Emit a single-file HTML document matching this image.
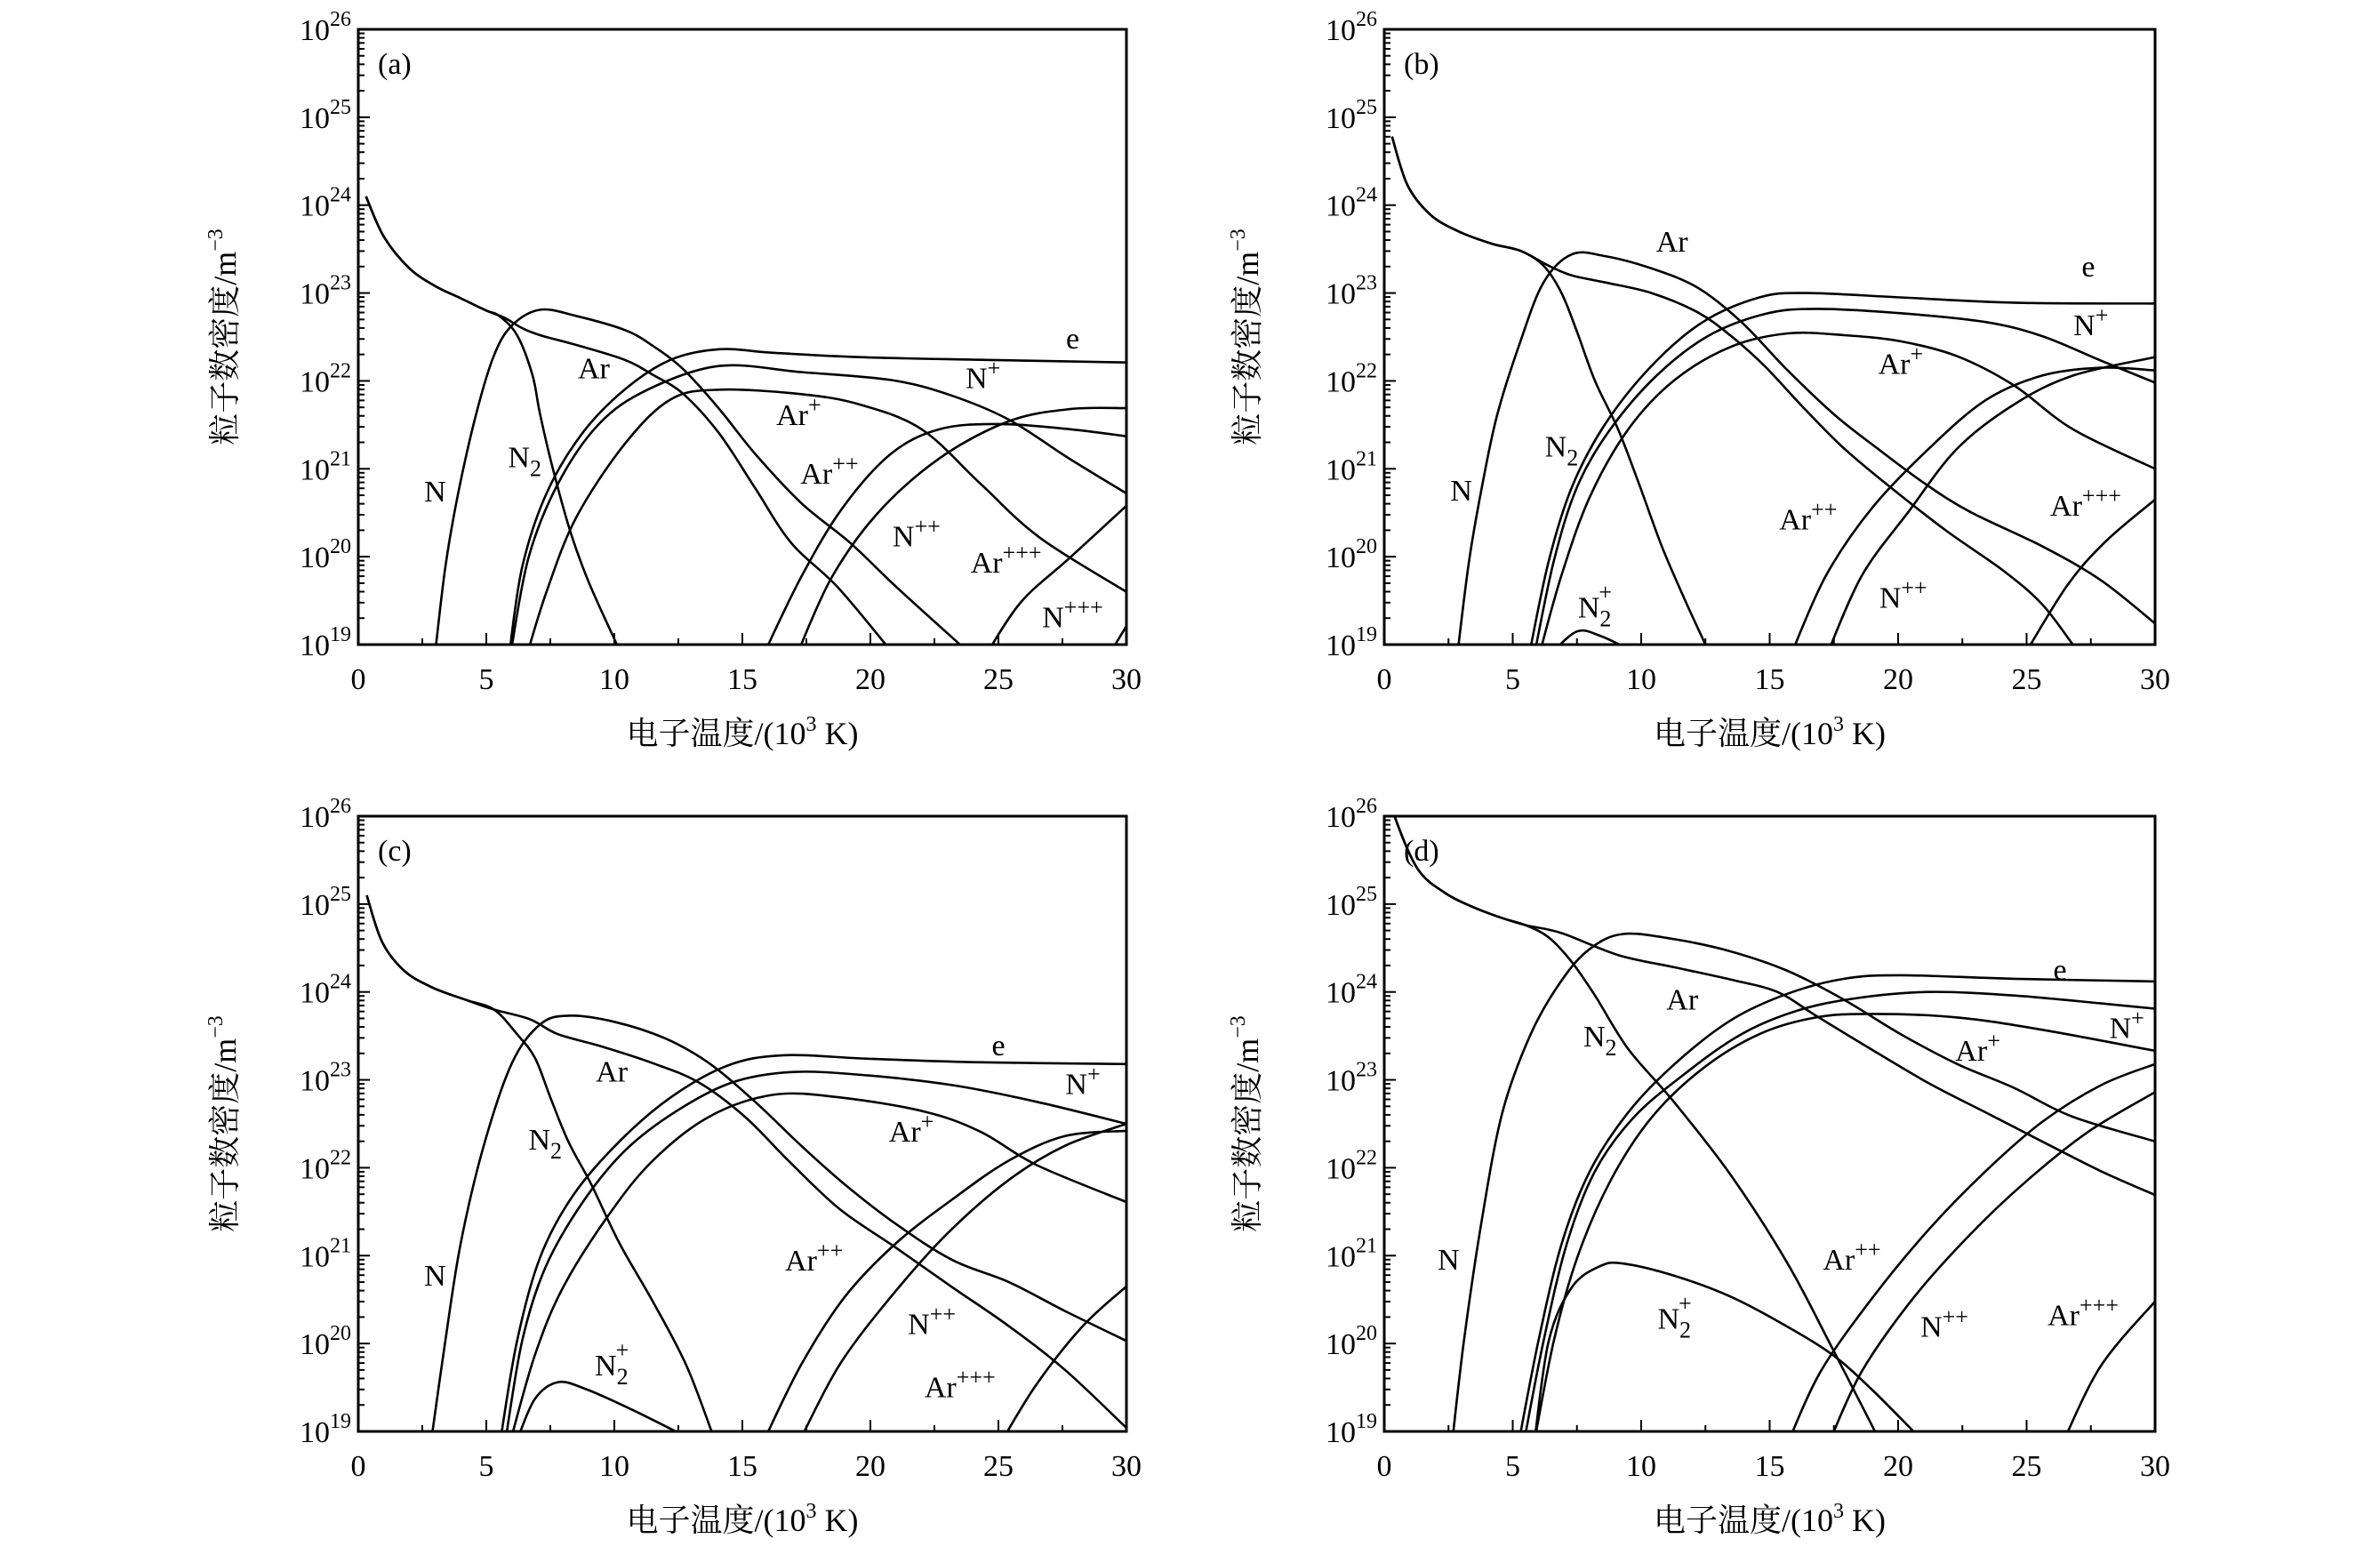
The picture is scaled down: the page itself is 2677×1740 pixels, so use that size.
<!DOCTYPE html>
<html><head><meta charset="utf-8">
<style>
html,body{margin:0;padding:0;background:#fff;}
svg{display:block;}
text{font-family:"Liberation Serif","Noto Serif CJK SC",serif;fill:#000;}
.cjk{font-family:"Liberation Serif","Noto Serif CJK SC","Noto Sans CJK SC",serif;}
</style></head>
<body>
<svg id="fig" width="2677" height="1740" viewBox="0 0 2677 1740" xmlns="http://www.w3.org/2000/svg">
<rect width="2677" height="1740" fill="#fff"/>
</svg>
<script>
// ---------- data: [T (10^3 K), log10 n] ----------
const xTicks=[0,5,10,15,20,25,30];
const yTicks=[19,20,21,22,23,24,25,26];
const speciesNames=["N2","Ar","N","e","N+","Ar+","N2+","Ar++","N++","Ar+++","N+++"];
// panel a
const a_N2=[[0.3,24.1],[1,23.64],[2,23.28],[3,23.08],[4,22.94],[5,22.8],[5.5,22.74],[6.2,22.52],[6.8,22.07],[7.1,21.62],[7.6,21.0],[8.3,20.27],[9.0,19.71],[10.1,19]];
const a_Ar=[[0.3,24.1],[1,23.64],[2,23.28],[3,23.08],[4,22.94],[5,22.8],[5.7,22.72],[6.4,22.6],[7.1,22.52],[8.5,22.41],[10.4,22.24],[11.5,22.07],[12.7,21.85],[14.1,21.4],[15.5,20.78],[16.9,20.16],[18.7,19.66],[20.6,19]];
const a_N=[[3.0,18.9],[3.4,19.88],[3.9,20.72],[4.6,21.62],[5.3,22.29],[6.0,22.63],[7.1,22.81],[8.5,22.74],[10.4,22.58],[11.5,22.4],[12.7,22.13],[14.1,21.68],[15.5,21.17],[17.3,20.61],[19.2,20.16],[21.0,19.66],[23.5,19]];
const a_e=[[5.9,18.9],[6.4,19.88],[7.35,20.72],[8.74,21.4],[10.4,21.9],[12.2,22.24],[14.1,22.36],[16.2,22.32],[19.6,22.27],[24.3,22.24],[30,22.21]];
const a_Np=[[5.95,18.9],[6.65,19.99],[7.8,20.83],[9.4,21.51],[11.3,21.9],[14.1,22.17],[17.3,22.1],[20.8,22.01],[23.1,21.84],[25.4,21.56],[27.8,21.11],[30,20.72]];
const a_Arp=[[6.6,18.9],[7.35,19.6],[8.5,20.44],[10.4,21.28],[12.2,21.79],[14.1,21.9],[17.3,21.85],[19.6,21.73],[22.0,21.45],[24.3,20.83],[26.6,20.22],[30,19.6]];
const a_Arpp=[[15.85,18.9],[17.3,19.77],[18.9,20.55],[20.8,21.17],[22.7,21.45],[25.0,21.51],[27.8,21.45],[30,21.37]];
const a_Npp=[[17.15,18.9],[18.5,19.77],[20.3,20.5],[22.7,21.12],[25.4,21.54],[27.8,21.68],[30,21.69]];
const a_Arppp=[[24.55,18.9],[25.9,19.49],[27.8,19.99],[30,20.58]];
const a_Nppp=[[29.35,18.9],[30,19.21]];
// panel b
const b_N2=[[0.3,24.78],[0.9,24.23],[1.8,23.89],[2.9,23.7],[4.2,23.56],[5.3,23.48],[6.2,23.31],[6.9,23.0],[7.5,22.56],[8.2,22.0],[9.1,21.45],[9.9,20.84],[10.8,20.12],[11.7,19.51],[12.5,19]];
const b_Ar=[[0.3,24.78],[0.9,24.23],[1.8,23.89],[2.9,23.7],[4.2,23.56],[5.3,23.48],[6.4,23.31],[7.3,23.2],[8.6,23.12],[10.4,23.0],[12.2,22.78],[13.5,22.51],[14.8,22.17],[16.4,21.67],[17.9,21.23],[19.7,20.79],[21.9,20.29],[24.1,19.84],[25.6,19.46],[26.8,19]];
const b_N=[[2.85,18.9],[3.3,19.95],[3.8,20.79],[4.4,21.62],[5.3,22.45],[6.2,23.12],[7.3,23.44],[8.6,23.42],[10.4,23.28],[12.2,23.06],[13.9,22.67],[15.7,22.12],[17.5,21.62],[19.2,21.23],[21.0,20.84],[22.8,20.51],[25.6,20.12],[27.9,19.73],[30,19.24]];
const b_e=[[5.65,18.9],[6.4,19.95],[7.3,20.79],[8.6,21.51],[10.4,22.17],[12.4,22.67],[14.6,22.95],[16.4,23.0],[20.1,22.95],[24.5,22.89],[30,22.88]];
const b_Np=[[5.85,18.9],[6.6,19.95],[7.5,20.79],[8.8,21.45],[10.6,22.06],[12.6,22.51],[14.8,22.76],[16.8,22.82],[20.1,22.77],[23.4,22.67],[25.6,22.51],[27.9,22.23],[30,21.98]];
const b_Arp=[[6.05,18.9],[6.9,19.79],[8.0,20.68],[9.5,21.45],[11.3,22.01],[13.5,22.39],[15.7,22.54],[17.9,22.52],[20.1,22.45],[22.3,22.28],[24.5,21.95],[26.8,21.45],[30,21.0]];
const b_N2p=[[6.5,18.9],[7.5,19.15],[8.4,19.1],[9.5,18.95]];
const b_Arpp=[[15.85,18.9],[17.2,19.79],[19.0,20.56],[21.2,21.23],[23.4,21.78],[25.6,22.06],[27.9,22.15],[30,22.12]];
const b_Npp=[[17.25,18.9],[18.6,19.79],[20.4,20.51],[22.3,21.23],[24.5,21.73],[26.8,22.06],[30,22.27]];
const b_Arppp=[[24.95,18.9],[26.6,19.68],[28.1,20.18],[30,20.65]];
// panel c
const c_N2=[[0.33,25.1],[0.93,24.57],[1.8,24.24],[2.9,24.05],[4.2,23.91],[5.3,23.8],[6.2,23.52],[6.9,23.25],[7.5,22.8],[8.2,22.3],[9.1,21.81],[10.2,21.14],[11.5,20.48],[12.8,19.76],[13.8,19]];
const c_Ar=[[0.33,25.1],[0.93,24.57],[1.8,24.24],[2.9,24.05],[4.2,23.91],[5.3,23.8],[6.7,23.69],[7.8,23.52],[9.5,23.38],[11.5,23.19],[13.3,22.97],[15.1,22.58],[16.8,22.08],[18.8,21.53],[21.0,21.09],[23.2,20.64],[25.4,20.2],[27.6,19.7],[30,19.04]];
const c_N=[[2.85,18.9],[3.4,20.03],[4.0,21.14],[4.9,22.25],[6.0,23.19],[7.1,23.63],[8.2,23.73],[10.0,23.66],[12.0,23.47],[13.7,23.19],[15.5,22.75],[17.3,22.25],[19.0,21.81],[21.0,21.36],[23.2,20.95],[25.4,20.7],[27.6,20.37],[30,20.03]];
const c_e=[[5.55,18.9],[6.2,20.03],[7.1,20.98],[8.4,21.69],[10.2,22.3],[12.2,22.8],[14.4,23.16],[16.6,23.28],[19.9,23.24],[24.3,23.2],[30,23.18]];
const c_Np=[[5.75,18.9],[6.4,20.03],[7.3,20.86],[8.7,21.58],[10.4,22.19],[12.4,22.64],[14.6,22.97],[17.0,23.09],[19.9,23.05],[23.2,22.94],[26.5,22.75],[30,22.5]];
const c_Arp=[[5.95,18.9],[6.9,19.87],[8.0,20.64],[9.8,21.47],[11.5,22.08],[13.7,22.58],[16.2,22.83],[18.8,22.8],[22.1,22.64],[24.3,22.41],[26.5,22.03],[30,21.61]];
const c_N2p=[[6.2,18.9],[6.9,19.37],[7.8,19.56],[8.9,19.48],[10.6,19.26],[12.4,19]];
const c_Arpp=[[15.85,18.9],[17.3,19.76],[19.0,20.53],[21.0,21.14],[23.2,21.64],[25.4,22.08],[27.6,22.36],[30,22.42]];
const c_Npp=[[17.25,18.9],[18.8,19.76],[20.8,20.53],[23.0,21.25],[25.4,21.86],[27.6,22.25],[30,22.5]];
const c_Arppp=[[25.15,18.9],[26.5,19.54],[28.3,20.2],[30,20.65]];
// panel d
const d_N2=[[0.2,26.3],[0.4,26.0],[1.3,25.4],[2.4,25.12],[3.5,24.96],[4.6,24.84],[5.5,24.76],[6.4,24.62],[7.3,24.34],[8.2,23.96],[9.5,23.35],[11.3,22.74],[13.5,21.91],[15.7,20.91],[17.5,19.91],[19.1,19]];
const d_Ar=[[0.2,26.3],[0.4,26.0],[1.3,25.4],[2.4,25.12],[3.5,24.96],[4.6,24.84],[5.5,24.76],[6.9,24.67],[9.1,24.42],[11.3,24.28],[13.5,24.14],[15.3,24.0],[16.8,23.73],[19.0,23.34],[21.2,22.96],[23.4,22.63],[25.6,22.3],[27.9,21.96],[30,21.69]];
const d_N=[[2.65,18.9],[3.1,20.03],[3.8,21.41],[4.6,22.63],[5.7,23.52],[6.9,24.13],[8.0,24.49],[9.3,24.66],[11.3,24.6],[13.5,24.46],[15.7,24.24],[17.9,23.91],[20.1,23.52],[22.3,23.18],[24.5,22.91],[26.8,22.58],[30,22.3]];
const d_e=[[5.25,18.9],[6.0,20.03],[6.9,21.13],[8.0,21.96],[9.5,22.63],[11.3,23.18],[13.5,23.68],[15.7,23.98],[17.9,24.15],[20.1,24.19],[24.5,24.15],[30,24.12]];
const d_Np=[[5.45,18.9],[6.2,20.03],[7.1,21.13],[8.2,21.96],[9.7,22.57],[11.7,23.07],[13.9,23.52],[16.1,23.79],[18.4,23.93],[21.2,24.0],[24.5,23.96],[27.9,23.87],[30,23.81]];
const d_Arp=[[5.85,18.9],[6.6,20.03],[7.5,20.97],[8.8,21.85],[10.4,22.57],[12.4,23.13],[14.6,23.52],[16.8,23.71],[19.0,23.75],[22.3,23.71],[25.6,23.57],[30,23.33]];
const d_N2p=[[5.85,18.9],[6.4,20.03],[7.3,20.64],[8.4,20.88],[9.3,20.91],[11.3,20.77],[13.5,20.53],[15.7,20.19],[17.5,19.86],[19.0,19.47],[20.6,19]];
const d_Arpp=[[15.75,18.9],[17.0,19.69],[19.0,20.52],[21.2,21.3],[23.4,21.96],[25.6,22.52],[27.9,22.94],[30,23.18]];
const d_Npp=[[17.35,18.9],[18.6,19.69],[20.6,20.52],[22.8,21.24],[25.0,21.85],[27.4,22.41],[30,22.86]];
const d_Arppp=[[26.45,18.9],[27.9,19.75],[30,20.48]];

// annotation labels: [base, sub, sup, T, logn]
const a_labels=[["N","","",3.0,20.75],["N","2","",6.5,21.14],["Ar","","",9.2,22.15],["e","","",27.9,22.49],["N","","+",24.4,22.04],["Ar","","+",17.2,21.62],["Ar","","++",18.4,20.95],["N","","++",21.8,20.24],["Ar","","+++",25.3,19.94],["N","","+++",27.9,19.32]];
const b_labels=[["N","","",3.0,20.76],["N","2","",6.9,21.26],["N","2","+",8.2,19.43],["Ar","","",11.2,23.59],["e","","",27.4,23.31],["N","","+",27.5,22.64],["Ar","","+",20.1,22.2],["Ar","","++",16.5,20.43],["N","","++",20.2,19.54],["Ar","","+++",27.3,20.59]];
const c_labels=[["N","","",3.0,20.78],["N","2","",7.3,22.33],["N","2","+",9.9,19.76],["Ar","","",9.9,23.1],["e","","",25.0,23.4],["N","","+",28.3,22.96],["Ar","","+",21.6,22.42],["Ar","","++",17.8,20.95],["N","","++",22.4,20.23],["Ar","","+++",23.5,19.51]];
const d_labels=[["N","","",2.5,20.96],["N","2","",8.4,23.5],["Ar","","",11.6,23.92],["e","","",26.3,24.26],["N","","+",28.9,23.6],["Ar","","+",23.1,23.34],["Ar","","++",18.2,20.96],["N","2","+",11.3,20.29],["N","","++",21.8,20.2],["Ar","","+++",27.2,20.33]];

const NS="http://www.w3.org/2000/svg";
const svg=document.getElementById('fig');
function mk(tag,attrs,parent){const el=document.createElementNS(NS,tag);for(const k in attrs)el.setAttribute(k,attrs[k]);(parent||svg).appendChild(el);return el;}

const panels=[
 {id:"a",L:403,R:1267,T:33,B:725,ytx:265,series:[a_N2,a_Ar,a_N,a_e,a_Np,a_Arp,a_Arpp,a_Npp,a_Arppp,a_Nppp],names:["N2","Ar","N","e","N+","Ar+","Ar++","N++","Ar+++","N+++"],labels:a_labels},
 {id:"b",L:1557,R:2424,T:33,B:725,ytx:1415,series:[b_N2,b_Ar,b_N,b_e,b_Np,b_Arp,b_N2p,b_Arpp,b_Npp,b_Arppp],names:["N2","Ar","N","e","N+","Ar+","N2+","Ar++","N++","Ar+++"],labels:b_labels},
 {id:"c",L:403,R:1267,T:918,B:1610,ytx:265,series:[c_N2,c_Ar,c_N,c_e,c_Np,c_Arp,c_N2p,c_Arpp,c_Npp,c_Arppp],names:["N2","Ar","N","e","N+","Ar+","N2+","Ar++","N++","Ar+++"],labels:c_labels},
 {id:"d",L:1557,R:2424,T:918,B:1610,ytx:1415,series:[d_N2,d_Ar,d_N,d_e,d_Np,d_Arp,d_N2p,d_Arpp,d_Npp,d_Arppp],names:["N2","Ar","N","e","N+","Ar+","N2+","Ar++","N++","Ar+++"],labels:d_labels}
];

function smoothPath(pts){
 let d="M"+pts[0][0].toFixed(1)+","+pts[0][1].toFixed(1);
 for(let i=0;i<pts.length-1;i++){
  const p0=pts[Math.max(0,i-1)],p1=pts[i],p2=pts[i+1],p3=pts[Math.min(pts.length-1,i+2)];
  const c1x=p1[0]+(p2[0]-p0[0])/6,c1y=p1[1]+(p2[1]-p0[1])/6;
  const c2x=p2[0]-(p3[0]-p1[0])/6,c2y=p2[1]-(p3[1]-p1[1])/6;
  d+=" C"+c1x.toFixed(1)+","+c1y.toFixed(1)+" "+c2x.toFixed(1)+","+c2y.toFixed(1)+" "+p2[0].toFixed(1)+","+p2[1].toFixed(1);
 }
 return d;
}

panels.forEach(p=>{
 const g=mk('g',{});
 
 
 const xs=v=>p.L+(v-0)/30*(p.R-p.L);
 const ys=v=>p.B-(v-19)/7*(p.B-p.T);
 const defs=mk('defs',{},g);
 const cp=mk('clipPath',{id:'clip-'+p.id},defs);
 mk('rect',{x:p.L,y:p.T,width:p.R-p.L,height:p.B-p.T},cp);
 // x ticks
 for(let t=0;t<=30;t+=2.5){
  const major=(t%5===0);
  const tk=mk('line',{x1:xs(t),x2:xs(t),y1:p.B,y2:p.B-(major?13:7),stroke:'#000','stroke-width':2},g);
  
  
 }
 xTicks.forEach(t=>{
  const tx=mk('text',{x:xs(t),y:p.B+50,'font-size':34,'text-anchor':'middle'},g);
  
  
  tx.textContent=String(t);
 });
 // y ticks
 for(let dcd=19;dcd<26;dcd++){
  for(let m=1;m<=9;m++){
   const v=dcd+Math.log10(m);
   const tk=mk('line',{x1:p.L,x2:p.L+(m===1?13:7),y1:ys(v),y2:ys(v),stroke:'#000','stroke-width':2},g);
   
   
  }
 }
 yTicks.forEach(v=>{
  const tx=mk('text',{x:p.L-8,y:ys(v)+12,'font-size':34,'text-anchor':'end'},g);
  
  
  const t1=mk('tspan',{},tx);t1.textContent="10";
  const t2=mk('tspan',{'font-size':24,dy:-16},tx);t2.textContent=String(v);
 });
 // series
 const sg=mk('g',{'clip-path':'url(#clip-'+p.id+')'},g);
 p.series.forEach((s,i)=>{
  const pts=s.map(q=>[xs(q[0]),ys(q[1])]);
  const path=mk('path',{d:smoothPath(pts),fill:'none',stroke:'#000','stroke-width':2.6,'stroke-linejoin':'round'},sg);
  
  
 });
 // frame
 const fr=mk('rect',{x:p.L,y:p.T,width:p.R-p.L,height:p.B-p.T,fill:'none',stroke:'#000','stroke-width':3},g);
 
 
 // panel tag
 const pl=mk('text',{x:p.L+22,y:p.T+50,'font-size':34},g);
 
 
 pl.textContent="("+p.id+")";
 // species labels
 p.labels.forEach(l=>{
  const tx=mk('text',{x:xs(l[3]),y:ys(l[4])+12,'font-size':34,'text-anchor':'middle'},g);
  
  
  const b=mk('tspan',{},tx);b.textContent=l[0];
  if(l[1]&&l[2]){
   const s1=mk('tspan',{'font-size':26,dy:10},tx);s1.textContent=l[1];
   const s2=mk('tspan',{'font-size':26,dx:-14,dy:-30},tx);s2.textContent=l[2];
  }else if(l[1]){
   const s1=mk('tspan',{'font-size':26,dy:10},tx);s1.textContent=l[1];
  }else if(l[2]){
   const s2=mk('tspan',{'font-size':26,dy:-14},tx);s2.textContent=l[2];
  }
 });
 // x title
 const xt=mk('text',{x:(p.L+p.R)/2,y:p.B+112,'font-size':36,'text-anchor':'middle','class':'cjk'},g);
 
 
 const x1=mk('tspan',{},xt);x1.textContent="电子温度/(10";
 const x2=mk('tspan',{'font-size':24,dy:-15},xt);x2.textContent="3";
 const x3=mk('tspan',{dy:15},xt);x3.textContent=" K)";
 // y title
 const yc=(p.T+p.B)/2;
 const yt=mk('text',{x:p.ytx,y:yc,'font-size':36,'text-anchor':'middle','class':'cjk',transform:'rotate(-90 '+p.ytx+' '+yc+')'},g);
 
 
 const y1=mk('tspan',{},yt);y1.textContent="粒子数密度/m";
 const y2=mk('tspan',{'font-size':24,dy:-15},yt);y2.textContent="−3";
});
</script>
</body></html>
